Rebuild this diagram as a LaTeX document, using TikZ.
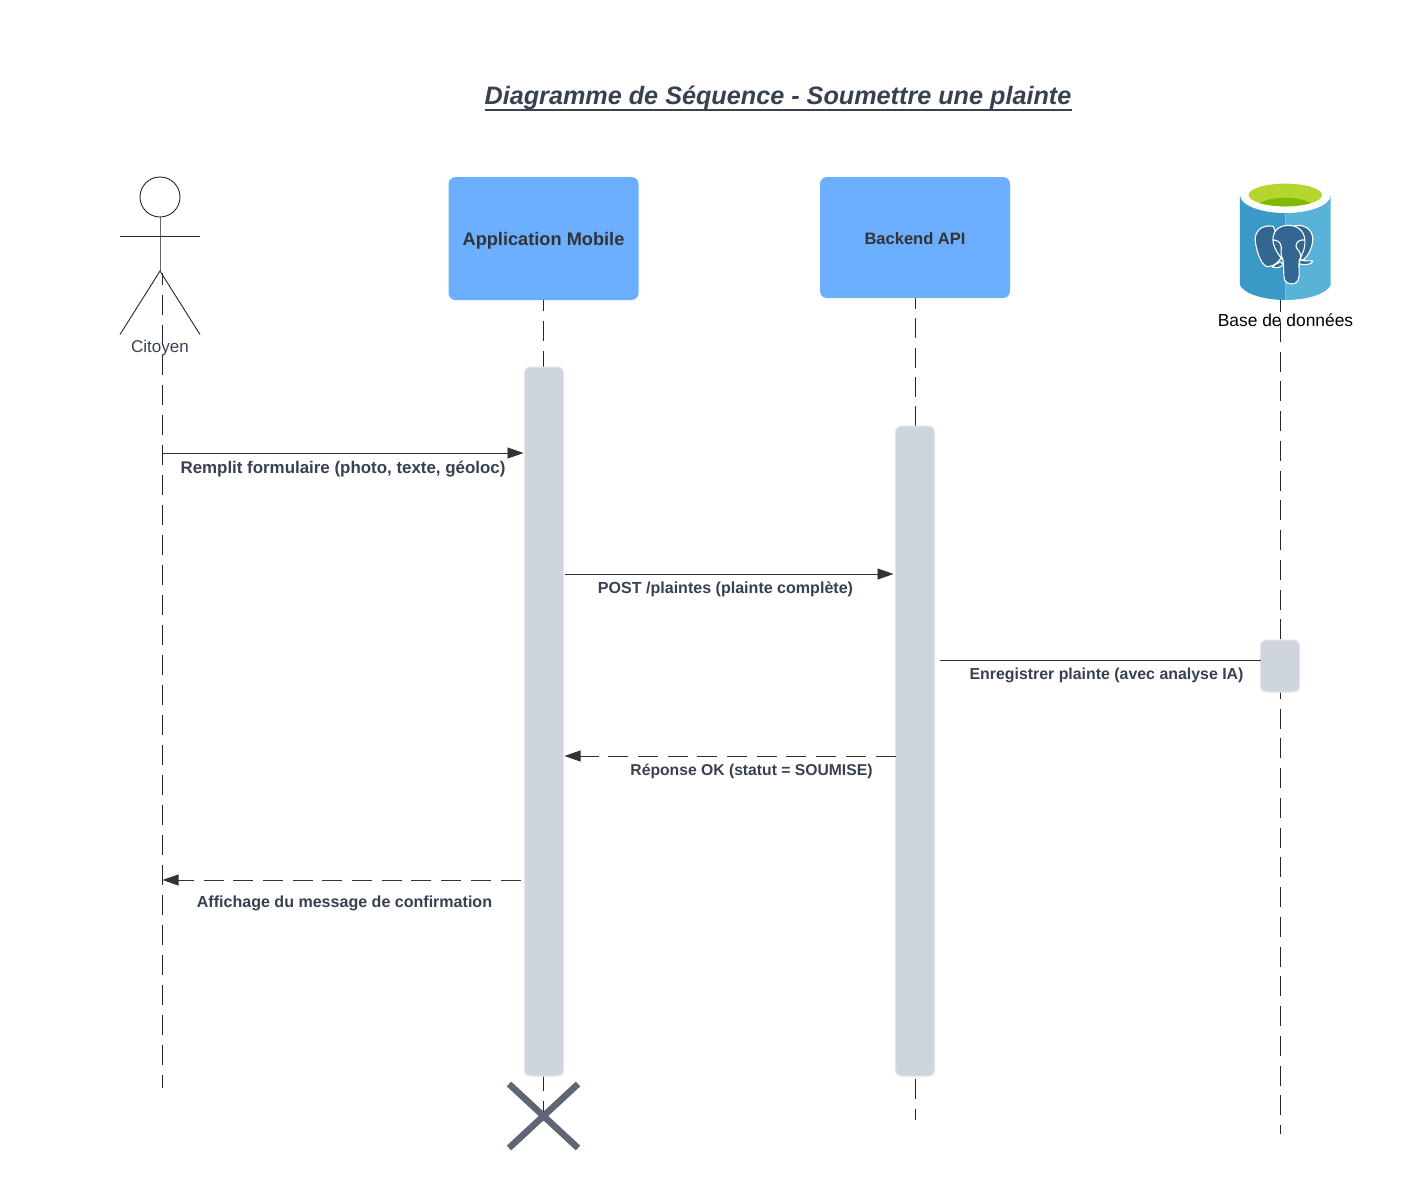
\documentclass[tikz,border=0pt]{standalone}
\usepackage{fontspec}
\setmainfont{Liberation Sans}
\usetikzlibrary{arrows.meta}
\definecolor{inkdark}{HTML}{374151}
\definecolor{barfill}{HTML}{CED5DD}
\definecolor{barline}{HTML}{E3E7EB}
\definecolor{boxblue}{HTML}{6CAEFF}
\definecolor{crossc}{HTML}{5F6673}
\definecolor{dbleft}{HTML}{3B99C7}
\definecolor{dbright}{HTML}{59B3D9}
\definecolor{dbgreen}{HTML}{B5D52F}
\definecolor{dbgreenb}{HTML}{7FBA00}
\definecolor{pgblue}{HTML}{336791}
\tikzset{
  lifeline/.style={draw=black!85,line width=0.9pt},
  msg/.style={draw=black!80,line width=0.9pt,-{Triangle[length=16pt,width=11pt]}},
  msgback/.style={msg,dash pattern=on 20pt off 9.67pt},
  msgplain/.style={draw=black!80,line width=0.9pt},
  bar/.style={draw=barline,fill=barfill,line width=1pt,rounded corners=6pt,minimum width=39pt,inner sep=0pt,outer sep=0pt},
  actorbox/.style={fill=boxblue,rounded corners=7pt,minimum width=190pt,inner sep=0pt,outer sep=0pt},
  msglabel/.style={inner sep=0pt,text=inkdark},
  stick/.style={draw=black!85,line width=0.9pt},
  elephantpart/.style={draw=white,fill=pgblue,line width=1.1pt,line join=round},
  elephantline/.style={draw=white,line width=1.1pt,line join=round},
}
\begin{document}
\begin{tikzpicture}[x=1pt,y=-1pt]
\useasboundingbox (0,0) rectangle (1401,1197);
\fill[white] (0,0) rectangle (1401,1197);

% title
\node[inner sep=0pt,text=inkdark,font=\fontsize{25.2}{28}\selectfont\bfseries\itshape] (title) at (778,98) {Diagramme de Séquence - Soumettre une plainte};
\draw[inkdark,line width=1.5pt] (484.5,110) -- (1072,110);

% lifeline anchors
\coordinate (citTop) at (162.5,273);
\coordinate (citEnd) at (162.5,1088);
\coordinate (dbTop) at (1280,300);
\coordinate (dbEnd) at (1280,1134);
\coordinate (appTop) at (543.5,300);
\coordinate (appEnd) at (543.5,1122);
\coordinate (apiTop) at (915,298);
\coordinate (apiEnd) at (915,1120);

% lifelines
\draw[lifeline,dash pattern=on 20pt off 10pt,dash phase=8pt] (citTop) -- (citEnd);
\draw[lifeline,dash pattern=on 20pt off 10pt,dash phase=9pt] (appTop) -- (appEnd);
\draw[lifeline,dash pattern=on 20pt off 9.27pt,dash phase=9pt] (apiTop) -- (apiEnd);
\draw[lifeline,dash pattern=on 20pt off 9.75pt,dash phase=8pt] (dbTop) -- (dbEnd);

% actor boxes
\node[actorbox,minimum height=123pt,text=black!80,text height=16pt,text depth=3pt,font=\fontsize{18.2}{20}\selectfont\bfseries] (app) at (543.5,238.5) {Application Mobile};
\node[actorbox,minimum height=121pt,text=black!80,text height=13pt,text depth=0pt,font=\fontsize{16.5}{20}\selectfont\bfseries] (api) at (915,237.5) {Backend API};

% activation bars
\node[bar,minimum height=709pt] (appbar) at (544,721.5) {};
\node[bar,minimum height=650pt] (apibar) at (915,751) {};
\node[bar,minimum height=52pt] (dbbar) at (1280,666) {};

% stick figure
\node[circle,draw=black!85,line width=0.9pt,minimum size=40pt,inner sep=0pt,outer sep=0pt] (head) at (160,197) {};
\coordinate (hip) at (160,271);
\coordinate (armL) at (120,236);
\coordinate (armR) at (200,236);
\coordinate (legL) at (120,334.5);
\coordinate (legR) at (200,334.5);
\draw[stick,draw=black!60] (head.south) -- (hip);
\draw[stick] (armL) -- (armR);
\draw[stick] (legL) -- (hip) -- (legR);
\node[inner sep=0pt,text=inkdark,font=\fontsize{17}{18}\selectfont] (citlabel) at (160,348) {Citoyen};

% database icon
\begin{scope}[x=0.33333pt,y=-0.33333pt,shift={(3540,480)}]
  \fill[dbleft] (180,105) -- (180,375) .. controls (190,400) and (250,420) .. (316,420) -- (316,105) -- cycle;
  \fill[dbright] (316,105) -- (316,420) .. controls (385,420) and (442,400) .. (452,375) -- (452,105) -- cycle;
  \fill[white] (316,105) ellipse (136 and 54);
  \fill[dbgreen] (316,105) ellipse (110 and 34);
  \begin{scope}
    \clip (316,105) ellipse (110 and 34);
    \fill[dbgreenb] (316,157) ellipse (100 and 44);
  \end{scope}
  % right ear
  \path[elephantpart] (345,197) .. controls (380,192) and (402,215) .. (398,245) .. controls (394,270) and (385,285) .. (372,298) .. controls (360,305) and (345,300) .. (340,280) -- cycle;
  % left ear
  \path[elephantpart] (280,199) .. controls (245,192) and (222,215) .. (226,245) .. controls (231,280) and (246,322) .. (266,320) .. controls (283,318) and (300,305) .. (310,280) -- cycle;
  % tusks
  \path[elephantpart] (300,306) .. controls (290,312) and (280,316) .. (277,321) .. controls (290,326) and (305,322) .. (310,312) -- cycle;
  \path[elephantpart] (360,300) .. controls (375,304) and (390,302) .. (399,303) .. controls (395,314) and (375,316) .. (358,312) -- cycle;
  % head and trunk
  \path[elephantpart] (325,196) .. controls (295,196) and (278,215) .. (279,240) .. controls (280,262) and (295,285) .. (309,300) .. controls (313,320) and (309,345) .. (314,360) .. controls (320,375) and (347,376) .. (354,362) .. controls (362,345) and (354,320) .. (358,300) .. controls (368,280) and (378,262) .. (374,235) .. controls (370,210) and (350,196) .. (325,196) -- cycle;
  % eyes
  \draw[elephantline] (279,240) .. controls (290,240) and (303,245) .. (304,262) .. controls (304,275) and (300,285) .. (309,298);
  \draw[elephantline] (374,240) .. controls (360,238) and (348,245) .. (348,258) .. controls (348,270) and (365,270) .. (362,298);
\end{scope}
\node[inner sep=0pt,text=black,font=\fontsize{17.4}{18}\selectfont] (dblabel) at (1285.5,320) {Base de données};

% messages
\coordinate (m1s) at (citTop |- 0,453);
\coordinate (m5e) at (citTop |- 0,880);
\draw[msg] (m1s) -- ([xshift=-1pt]appbar.west |- m1s);
\node[msglabel,font=\fontsize{16.9}{18}\selectfont\bfseries] (l1) at (343,469) {Remplit formulaire (photo, texte, géoloc)};
\coordinate (m2) at (0,574);
\draw[msg] ([xshift=1pt]appbar.east |- m2) -- ([xshift=-2pt]apibar.west |- m2);
\node[msglabel,font=\fontsize{16.05}{18}\selectfont\bfseries] (l2) at (725.5,589) {POST /plaintes (plainte complète)};
\coordinate (m3) at (0,660);
\draw[msgplain] ([xshift=5pt]apibar.east |- m3) -- (dbbar.west |- m3);
\node[msglabel,font=\fontsize{15.9}{18}\selectfont\bfseries] (l3) at (1106.5,675) {Enregistrer plainte (avec analyse IA)};
\coordinate (m4) at (0,756);
\draw[msgback] (apibar.west |- m4) -- ([xshift=1pt]appbar.east |- m4);
\node[msglabel,font=\fontsize{15.7}{18}\selectfont\bfseries] (l4) at (751.5,771) {Réponse OK (statut = SOUMISE)};
\draw[msgback] ([xshift=-4pt]appbar.west |- m5e) -- (m5e);
\node[msglabel,font=\fontsize{16.05}{18}\selectfont\bfseries] (l5) at (344.5,903) {Affichage du message de confirmation};

% destruction cross
\coordinate (xa) at (509,1084);
\coordinate (xb) at (578,1148);
\coordinate (xc) at (578,1084);
\coordinate (xd) at (509,1148);
\draw[crossc,line width=6.5pt] (xa) -- (xb);
\draw[crossc,line width=6.5pt] (xc) -- (xd);
\end{tikzpicture}
\end{document}
